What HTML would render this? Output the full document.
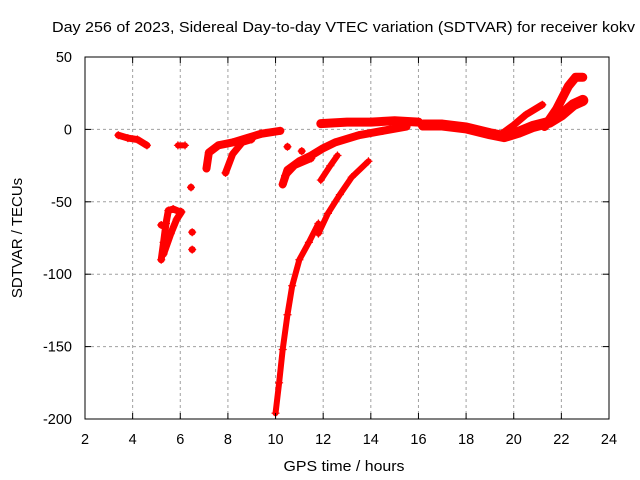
<!DOCTYPE html>
<html><head><meta charset="utf-8"><style>
body{margin:0;background:#fff}
svg{display:block;font-family:"Liberation Sans",sans-serif}
</style></head><body>
<svg id="chart" width="640" height="480" viewBox="0 0 640 480">
<text x="52" y="32" font-size="15" textLength="583" lengthAdjust="spacingAndGlyphs" fill="#000">Day 256 of 2023, Sidereal Day-to-day VTEC variation (SDTVAR) for receiver kokv</text>
<g id="grid"></g>
<g id="marks"></g>
<rect x="85" y="57" width="524" height="362" fill="none" stroke="#000" stroke-width="1"/>
<g id="ticks"></g>
<text x="344" y="471" font-size="15" textLength="121" lengthAdjust="spacingAndGlyphs" text-anchor="middle">GPS time / hours</text>
<text transform="translate(22,238) rotate(-90)" font-size="15" text-anchor="middle">SDTVAR / TECUs</text>
</svg>
<script>
const xTicks=[2,4,6,8,10,12,14,16,18,20,22,24];
const yTicks=[50,0,-50,-100,-150,-200];
const seg1=[[3.4,-4],[3.8,-6],[4.2,-7],[4.6,-11]];
const seg2=[[5.9,-11],[6.2,-11]];
const seg3=[[5.2,-90],[5.3,-78],[5.4,-65],[5.5,-56],[5.7,-55],[6.0,-57]];
const seg4=[[5.3,-86],[5.6,-72],[5.85,-62],[6.05,-57]];
const seg5=[[7.1,-27],[7.2,-16],[7.6,-11],[8.2,-9],[8.8,-6],[9.4,-3],[10.2,-1]];
const seg6=[[7.9,-30],[8.2,-17],[8.6,-9],[9.0,-7]];
const seg7=[[10.3,-38],[10.5,-28],[11,-22],[11.5,-18],[12,-13],[12.5,-9],[13.5,-4],[14.5,-1],[15.5,2]];
const seg8=[[10.4,-32],[10.8,-25],[11.5,-20]];
const seg9=[[11.9,-35],[12.3,-25],[12.6,-18]];
const seg10=[[11.9,4],[13,5],[14,5],[15,6],[16,5]];
const seg11=[[16.2,3],[17,3],[18,1],[19,-3],[19.6,-5],[20.2,-2],[20.8,2],[21.5,5],[22,10],[22.5,17],[22.9,20]];
const seg12=[[19.5,-3],[20,3],[20.5,10],[21.2,17]];
const seg13=[[21.3,2],[21.8,14],[22.3,30],[22.6,36],[22.9,36]];
const seg14=[[10,-196],[10.15,-175],[10.3,-152],[10.5,-128],[10.7,-108],[11,-90],[11.4,-78],[11.8,-65]];
const seg15=[[11.8,-72],[12.2,-58],[12.7,-45],[13.2,-33],[13.9,-22]];
const dots=[[5.2,-66],[6.5,-71],[6.5,-83],[6.45,-40],[10.5,-12],[11.1,-15],[8.5,-8]];
const series=[seg1,seg2,seg3,seg4,seg5,seg6,seg7,seg8,seg9,seg10,seg11,seg12,seg13,seg14,seg15];
const widths=[7,6,7,7,8,7,8,7,6,9,11,7,9,6,6];
const X0=85,X1=609,Y0=57,Y1=419;
const xs=t=>X0+(t-2)/22*(X1-X0);
const ys=v=>Y0+(50-v)/250*(Y1-Y0);
const NS='http://www.w3.org/2000/svg';
const mk=(tag,parent,attrs)=>{const e=document.createElementNS(NS,tag);for(const k in attrs)e.setAttribute(k,attrs[k]);parent.appendChild(e);return e;};
const grid=document.getElementById('grid'),ticks=document.getElementById('ticks'),marks=document.getElementById('marks');
xTicks.forEach(t=>{const x=xs(t);
 if(t>2&&t<24){const g=mk('line',grid,{x1:x,x2:x,y1:Y0,y2:Y1,stroke:'#a0a0a0','stroke-dasharray':'3,3'});
 
 }
 const l=mk('line',ticks,{x1:x,x2:x,y1:Y1,y2:Y1-6,stroke:'#000'});
 
 
 const l2=mk('line',ticks,{x1:x,x2:x,y1:Y0,y2:Y0+6,stroke:'#000'});
 
 
 const tx=mk('text',ticks,{x:x,y:444,'font-size':'14.5','text-anchor':'middle'});tx.textContent=t;
 
 });
yTicks.forEach(v=>{const y=ys(v);
 if(v<50&&v>-200){const g=mk('line',grid,{x1:X0,x2:X1,y1:y,y2:y,stroke:'#a0a0a0','stroke-dasharray':'3,3'});
 
 }
 const l=mk('line',ticks,{x1:X0,x2:X0+6,y1:y,y2:y,stroke:'#000'});
 
 
 const l2=mk('line',ticks,{x1:X1,x2:X1-6,y1:y,y2:y,stroke:'#000'});
 
 
 const tx=mk('text',ticks,{x:72,y:y+5,'font-size':'14.5','text-anchor':'end'});tx.textContent=v;
 
 });
function plus(x,y){const p=mk('path',marks,{d:`M${x-4},${y}h8M${x},${y-4}v8`,stroke:'#f00','stroke-width':1.2});
 
 }
series.forEach((s,i)=>{const pl=mk('polyline',marks,{points:s.map(p=>xs(p[0])+','+ys(p[1])).join(' '),fill:'none',stroke:'#f00','stroke-width':widths[i],'stroke-linejoin':'round','stroke-linecap':'round'});
 
 
 s.forEach(p=>plus(xs(p[0]),ys(p[1])));});
dots.forEach(p=>{const c=mk('circle',marks,{cx:xs(p[0]),cy:ys(p[1]),r:3.5,fill:'#f00'});
 
 
 plus(xs(p[0]),ys(p[1]));});
</script>
</body></html>
